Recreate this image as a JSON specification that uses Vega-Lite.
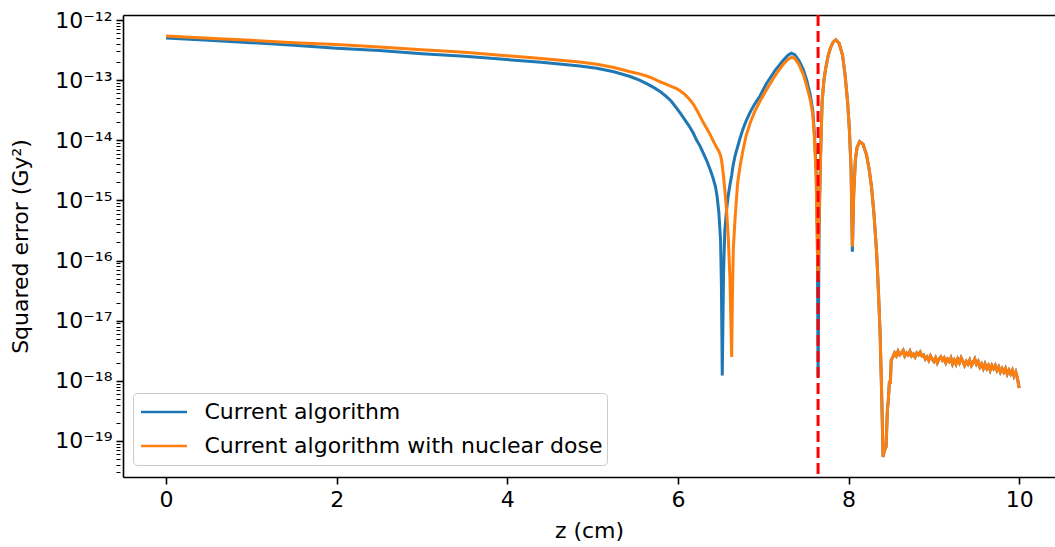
{
  "$schema": "https://vega.github.io/schema/vega-lite/v6.json",
  "width": 932,
  "height": 462,
  "autosize": {"type": "none"},
  "padding": {"left": 123, "top": 15, "right": 0, "bottom": 70},
  "background": "white",
  "config": {
    "font": "DejaVu Sans",
    "view": {"stroke": null},
    "axis": {"grid": false, "domainColor": "black", "domainWidth": 1.6, "tickColor": "black", "labelColor": "black", "titleColor": "black", "labelFontSize": 22, "titleFontSize": 22, "titleFontWeight": "normal", "labelFont": "DejaVu Sans", "titleFont": "DejaVu Sans"}
  },
  "layer": [
    {
      "data": {"values": [
        {"z": 0, "Current algorithm": 5.0e-13, "Current algorithm with nuclear dose": 5.4e-13},
        {"z": 0.5, "Current algorithm": 4.6e-13, "Current algorithm with nuclear dose": 4.95e-13},
        {"z": 1, "Current algorithm": 4.2e-13, "Current algorithm with nuclear dose": 4.6e-13},
        {"z": 1.5, "Current algorithm": 3.8e-13, "Current algorithm with nuclear dose": 4.2e-13},
        {"z": 2, "Current algorithm": 3.4e-13, "Current algorithm with nuclear dose": 3.9e-13},
        {"z": 2.5, "Current algorithm": 3.1e-13, "Current algorithm with nuclear dose": 3.55e-13},
        {"z": 3, "Current algorithm": 2.75e-13, "Current algorithm with nuclear dose": 3.2e-13},
        {"z": 3.5, "Current algorithm": 2.5e-13, "Current algorithm with nuclear dose": 2.9e-13},
        {"z": 3.92, "Current algorithm": 2.24e-13, "Current algorithm with nuclear dose": 2.6e-13},
        {"z": 4.4, "Current algorithm": 1.98e-13, "Current algorithm with nuclear dose": 2.3e-13},
        {"z": 4.85, "Current algorithm": 1.72e-13, "Current algorithm with nuclear dose": 2.0e-13},
        {"z": 5.05, "Current algorithm": 1.58e-13, "Current algorithm with nuclear dose": 1.83e-13},
        {"z": 5.25, "Current algorithm": 1.38e-13, "Current algorithm with nuclear dose": 1.62e-13},
        {"z": 5.44, "Current algorithm": 1.15e-13, "Current algorithm with nuclear dose": 1.38e-13},
        {"z": 5.55, "Current algorithm": 1.0e-13, "Current algorithm with nuclear dose": 1.27e-13},
        {"z": 5.65, "Current algorithm": 8.5e-14, "Current algorithm with nuclear dose": 1.15e-13},
        {"z": 5.72, "Current algorithm": 7.5e-14, "Current algorithm with nuclear dose": 1.05e-13},
        {"z": 5.79, "Current algorithm": 6.5e-14, "Current algorithm with nuclear dose": 9.4e-14},
        {"z": 5.86, "Current algorithm": 5.4e-14, "Current algorithm with nuclear dose": 8.6e-14},
        {"z": 5.92, "Current algorithm": 4.5e-14, "Current algorithm with nuclear dose": 7.9e-14},
        {"z": 5.98, "Current algorithm": 3.5e-14, "Current algorithm with nuclear dose": 7.3e-14},
        {"z": 6.03, "Current algorithm": 2.8e-14, "Current algorithm with nuclear dose": 6.6e-14},
        {"z": 6.08, "Current algorithm": 2.2e-14, "Current algorithm with nuclear dose": 5.8e-14},
        {"z": 6.13, "Current algorithm": 1.74e-14, "Current algorithm with nuclear dose": 4.9e-14},
        {"z": 6.18, "Current algorithm": 1.32e-14, "Current algorithm with nuclear dose": 4.0e-14},
        {"z": 6.22, "Current algorithm": 1.0e-14, "Current algorithm with nuclear dose": 3.2e-14},
        {"z": 6.26, "Current algorithm": 8.0e-15, "Current algorithm with nuclear dose": 2.5e-14},
        {"z": 6.30, "Current algorithm": 6.0e-15, "Current algorithm with nuclear dose": 1.95e-14},
        {"z": 6.34, "Current algorithm": 4.5e-15, "Current algorithm with nuclear dose": 1.55e-14},
        {"z": 6.38, "Current algorithm": 3.2e-15, "Current algorithm with nuclear dose": 1.23e-14},
        {"z": 6.41, "Current algorithm": 2.4e-15, "Current algorithm with nuclear dose": 1.0e-14},
        {"z": 6.44, "Current algorithm": 1.7e-15, "Current algorithm with nuclear dose": 8.3e-15},
        {"z": 6.46, "Current algorithm": 1.15e-15, "Current algorithm with nuclear dose": 7.4e-15},
        {"z": 6.48, "Current algorithm": 6.3e-16, "Current algorithm with nuclear dose": 6.6e-15},
        {"z": 6.50, "Current algorithm": 2.2e-16, "Current algorithm with nuclear dose": 5.6e-15},
        {"z": 6.51, "Current algorithm": 4.0e-17, "Current algorithm with nuclear dose": 4.8e-15},
        {"z": 6.52, "Current algorithm": 1.23e-18, "Current algorithm with nuclear dose": 3.8e-15},
        {"z": 6.535, "Current algorithm": 6.3e-17, "Current algorithm with nuclear dose": 2.5e-15},
        {"z": 6.55, "Current algorithm": 3.2e-16, "Current algorithm with nuclear dose": 1.5e-15},
        {"z": 6.57, "Current algorithm": 6.9e-16, "Current algorithm with nuclear dose": 7.0e-16},
        {"z": 6.59, "Current algorithm": 1.2e-15, "Current algorithm with nuclear dose": 2.5e-16},
        {"z": 6.61, "Current algorithm": 1.8e-15, "Current algorithm with nuclear dose": 5.0e-17},
        {"z": 6.63, "Current algorithm": 2.6e-15, "Current algorithm with nuclear dose": 2.5e-18},
        {"z": 6.64, "Current algorithm": 3.3e-15, "Current algorithm with nuclear dose": 3.0e-17},
        {"z": 6.65, "Current algorithm": 4.0e-15, "Current algorithm with nuclear dose": 1.6e-16},
        {"z": 6.67, "Current algorithm": 5.5e-15, "Current algorithm with nuclear dose": 5.0e-16},
        {"z": 6.70, "Current algorithm": 7.8e-15, "Current algorithm with nuclear dose": 1.95e-15},
        {"z": 6.73, "Current algorithm": 1.1e-14, "Current algorithm with nuclear dose": 3.8e-15},
        {"z": 6.76, "Current algorithm": 1.5e-14, "Current algorithm with nuclear dose": 6.5e-15},
        {"z": 6.80, "Current algorithm": 2.1e-14, "Current algorithm with nuclear dose": 1.2e-14},
        {"z": 6.85, "Current algorithm": 3.0e-14, "Current algorithm with nuclear dose": 2.0e-14},
        {"z": 6.90, "Current algorithm": 4.0e-14, "Current algorithm with nuclear dose": 3.0e-14},
        {"z": 6.96, "Current algorithm": 5.4e-14, "Current algorithm with nuclear dose": 4.4e-14},
        {"z": 7.04, "Current algorithm": 8.9e-14, "Current algorithm with nuclear dose": 7.0e-14},
        {"z": 7.14, "Current algorithm": 1.45e-13, "Current algorithm with nuclear dose": 1.2e-13},
        {"z": 7.23, "Current algorithm": 2.1e-13, "Current algorithm with nuclear dose": 1.8e-13},
        {"z": 7.29, "Current algorithm": 2.6e-13, "Current algorithm with nuclear dose": 2.2e-13},
        {"z": 7.33, "Current algorithm": 2.8e-13, "Current algorithm with nuclear dose": 2.4e-13},
        {"z": 7.37, "Current algorithm": 2.65e-13, "Current algorithm with nuclear dose": 2.3e-13},
        {"z": 7.42, "Current algorithm": 2.1e-13, "Current algorithm with nuclear dose": 1.8e-13},
        {"z": 7.47, "Current algorithm": 1.5e-13, "Current algorithm with nuclear dose": 1.25e-13},
        {"z": 7.51, "Current algorithm": 1.0e-13, "Current algorithm with nuclear dose": 8.0e-14},
        {"z": 7.55, "Current algorithm": 5.8e-14, "Current algorithm with nuclear dose": 4.8e-14},
        {"z": 7.58, "Current algorithm": 3.2e-14, "Current algorithm with nuclear dose": 2.8e-14},
        {"z": 7.60, "Current algorithm": 1.3e-14, "Current algorithm with nuclear dose": 1.1e-14},
        {"z": 7.62, "Current algorithm": 3.2e-15, "Current algorithm with nuclear dose": 2.6e-15},
        {"z": 7.635, "Current algorithm": 2.5e-16, "Current algorithm with nuclear dose": 1.5e-16},
        {"z": 7.643, "Current algorithm": 1.15e-18, "Current algorithm with nuclear dose": 4.7e-17},
        {"z": 7.655, "Current algorithm": 3.2e-16, "Current algorithm with nuclear dose": 5.0e-16},
        {"z": 7.67, "Current algorithm": 4.0e-15, "Current algorithm with nuclear dose": 4.0e-15},
        {"z": 7.69, "Current algorithm": 4.2e-14, "Current algorithm with nuclear dose": 4.2e-14},
        {"z": 7.71, "Current algorithm": 9.5e-14, "Current algorithm with nuclear dose": 9.5e-14},
        {"z": 7.73, "Current algorithm": 1.5e-13, "Current algorithm with nuclear dose": 1.5e-13},
        {"z": 7.76, "Current algorithm": 2.5e-13, "Current algorithm with nuclear dose": 2.5e-13},
        {"z": 7.79, "Current algorithm": 3.5e-13, "Current algorithm with nuclear dose": 3.5e-13},
        {"z": 7.82, "Current algorithm": 4.3e-13, "Current algorithm with nuclear dose": 4.3e-13},
        {"z": 7.85, "Current algorithm": 4.7e-13, "Current algorithm with nuclear dose": 4.7e-13},
        {"z": 7.89, "Current algorithm": 4.1e-13, "Current algorithm with nuclear dose": 4.1e-13},
        {"z": 7.93, "Current algorithm": 2.6e-13, "Current algorithm with nuclear dose": 2.6e-13},
        {"z": 7.96, "Current algorithm": 1.2e-13, "Current algorithm with nuclear dose": 1.2e-13},
        {"z": 7.99, "Current algorithm": 4.2e-14, "Current algorithm with nuclear dose": 4.2e-14},
        {"z": 8.01, "Current algorithm": 1.5e-14, "Current algorithm with nuclear dose": 1.5e-14},
        {"z": 8.03, "Current algorithm": 3.2e-15, "Current algorithm with nuclear dose": 3.2e-15},
        {"z": 8.045, "Current algorithm": 1.4e-16, "Current algorithm with nuclear dose": 1.7e-16},
        {"z": 8.06, "Current algorithm": 1.2e-15, "Current algorithm with nuclear dose": 1.2e-15},
        {"z": 8.08, "Current algorithm": 4.7e-15, "Current algorithm with nuclear dose": 4.7e-15},
        {"z": 8.10, "Current algorithm": 7.6e-15, "Current algorithm with nuclear dose": 7.6e-15},
        {"z": 8.13, "Current algorithm": 9.5e-15, "Current algorithm with nuclear dose": 9.5e-15},
        {"z": 8.17, "Current algorithm": 8.6e-15, "Current algorithm with nuclear dose": 8.6e-15},
        {"z": 8.21, "Current algorithm": 5.8e-15, "Current algorithm with nuclear dose": 5.8e-15},
        {"z": 8.24, "Current algorithm": 3.4e-15, "Current algorithm with nuclear dose": 3.4e-15},
        {"z": 8.27, "Current algorithm": 1.66e-15, "Current algorithm with nuclear dose": 1.66e-15},
        {"z": 8.30, "Current algorithm": 5.5e-16, "Current algorithm with nuclear dose": 5.5e-16},
        {"z": 8.33, "Current algorithm": 1.3e-16, "Current algorithm with nuclear dose": 1.3e-16},
        {"z": 8.35, "Current algorithm": 3.2e-17, "Current algorithm with nuclear dose": 3.2e-17},
        {"z": 8.37, "Current algorithm": 6.2e-18, "Current algorithm with nuclear dose": 6.2e-18},
        {"z": 8.39, "Current algorithm": 4.8e-19, "Current algorithm with nuclear dose": 4.8e-19},
        {"z": 8.405, "Current algorithm": 5.4e-20, "Current algorithm with nuclear dose": 5.4e-20},
        {"z": 8.42, "Current algorithm": 7.0e-20, "Current algorithm with nuclear dose": 7.0e-20},
        {"z": 8.44, "Current algorithm": 8.0e-20, "Current algorithm with nuclear dose": 8.0e-20},
        {"z": 8.455, "Current algorithm": 3.2e-19, "Current algorithm with nuclear dose": 3.2e-19},
        {"z": 8.465, "Current algorithm": 4.5e-19, "Current algorithm with nuclear dose": 4.5e-19},
        {"z": 8.48, "Current algorithm": 1.0e-18, "Current algorithm with nuclear dose": 1.0e-18},
        {"z": 8.49, "Current algorithm": 9.0e-19, "Current algorithm with nuclear dose": 9.0e-19},
        {"z": 8.50, "Current algorithm": 2.2e-18, "Current algorithm with nuclear dose": 2.2e-18},
        {"z": 8.52, "Current algorithm": 2.5e-18, "Current algorithm with nuclear dose": 2.5e-18},
        {"z": 8.54, "Current algorithm": 2.9e-18, "Current algorithm with nuclear dose": 2.9e-18},
        {"z": 8.56, "Current algorithm": 2.6e-18, "Current algorithm with nuclear dose": 2.6e-18},
        {"z": 8.58, "Current algorithm": 3.1e-18, "Current algorithm with nuclear dose": 3.1e-18},
        {"z": 8.60, "Current algorithm": 2.7e-18, "Current algorithm with nuclear dose": 2.7e-18},
        {"z": 8.62, "Current algorithm": 2.9e-18, "Current algorithm with nuclear dose": 2.9e-18},
        {"z": 8.64, "Current algorithm": 3.2e-18, "Current algorithm with nuclear dose": 3.2e-18},
        {"z": 8.66, "Current algorithm": 2.6e-18, "Current algorithm with nuclear dose": 2.6e-18},
        {"z": 8.68, "Current algorithm": 2.9e-18, "Current algorithm with nuclear dose": 2.9e-18},
        {"z": 8.70, "Current algorithm": 2.7e-18, "Current algorithm with nuclear dose": 2.7e-18},
        {"z": 8.72, "Current algorithm": 3.1e-18, "Current algorithm with nuclear dose": 3.1e-18},
        {"z": 8.74, "Current algorithm": 2.6e-18, "Current algorithm with nuclear dose": 2.6e-18},
        {"z": 8.76, "Current algorithm": 2.8e-18, "Current algorithm with nuclear dose": 2.8e-18},
        {"z": 8.78, "Current algorithm": 2.5e-18, "Current algorithm with nuclear dose": 2.5e-18},
        {"z": 8.80, "Current algorithm": 2.9e-18, "Current algorithm with nuclear dose": 2.9e-18},
        {"z": 8.82, "Current algorithm": 2.7e-18, "Current algorithm with nuclear dose": 2.7e-18},
        {"z": 8.84, "Current algorithm": 3.0e-18, "Current algorithm with nuclear dose": 3.0e-18},
        {"z": 8.86, "Current algorithm": 2.6e-18, "Current algorithm with nuclear dose": 2.6e-18},
        {"z": 8.88, "Current algorithm": 2.7e-18, "Current algorithm with nuclear dose": 2.7e-18},
        {"z": 8.90, "Current algorithm": 2.3e-18, "Current algorithm with nuclear dose": 2.3e-18},
        {"z": 8.92, "Current algorithm": 2.5e-18, "Current algorithm with nuclear dose": 2.5e-18},
        {"z": 8.94, "Current algorithm": 2.2e-18, "Current algorithm with nuclear dose": 2.2e-18},
        {"z": 8.96, "Current algorithm": 2.6e-18, "Current algorithm with nuclear dose": 2.6e-18},
        {"z": 8.98, "Current algorithm": 2.3e-18, "Current algorithm with nuclear dose": 2.3e-18},
        {"z": 9.00, "Current algorithm": 2.1e-18, "Current algorithm with nuclear dose": 2.1e-18},
        {"z": 9.02, "Current algorithm": 2.4e-18, "Current algorithm with nuclear dose": 2.4e-18},
        {"z": 9.04, "Current algorithm": 2.0e-18, "Current algorithm with nuclear dose": 2.0e-18},
        {"z": 9.06, "Current algorithm": 2.3e-18, "Current algorithm with nuclear dose": 2.3e-18},
        {"z": 9.08, "Current algorithm": 2.5e-18, "Current algorithm with nuclear dose": 2.5e-18},
        {"z": 9.10, "Current algorithm": 2.2e-18, "Current algorithm with nuclear dose": 2.2e-18},
        {"z": 9.12, "Current algorithm": 2.4e-18, "Current algorithm with nuclear dose": 2.4e-18},
        {"z": 9.14, "Current algorithm": 2.0e-18, "Current algorithm with nuclear dose": 2.0e-18},
        {"z": 9.16, "Current algorithm": 2.3e-18, "Current algorithm with nuclear dose": 2.3e-18},
        {"z": 9.18, "Current algorithm": 2.1e-18, "Current algorithm with nuclear dose": 2.1e-18},
        {"z": 9.20, "Current algorithm": 2.4e-18, "Current algorithm with nuclear dose": 2.4e-18},
        {"z": 9.22, "Current algorithm": 1.9e-18, "Current algorithm with nuclear dose": 1.9e-18},
        {"z": 9.24, "Current algorithm": 2.2e-18, "Current algorithm with nuclear dose": 2.2e-18},
        {"z": 9.26, "Current algorithm": 1.9e-18, "Current algorithm with nuclear dose": 1.9e-18},
        {"z": 9.28, "Current algorithm": 2.3e-18, "Current algorithm with nuclear dose": 2.3e-18},
        {"z": 9.30, "Current algorithm": 2.0e-18, "Current algorithm with nuclear dose": 2.0e-18},
        {"z": 9.32, "Current algorithm": 2.4e-18, "Current algorithm with nuclear dose": 2.4e-18},
        {"z": 9.34, "Current algorithm": 2.1e-18, "Current algorithm with nuclear dose": 2.1e-18},
        {"z": 9.36, "Current algorithm": 1.8e-18, "Current algorithm with nuclear dose": 1.8e-18},
        {"z": 9.38, "Current algorithm": 2.1e-18, "Current algorithm with nuclear dose": 2.1e-18},
        {"z": 9.40, "Current algorithm": 1.9e-18, "Current algorithm with nuclear dose": 1.9e-18},
        {"z": 9.42, "Current algorithm": 2.2e-18, "Current algorithm with nuclear dose": 2.2e-18},
        {"z": 9.44, "Current algorithm": 1.8e-18, "Current algorithm with nuclear dose": 1.8e-18},
        {"z": 9.46, "Current algorithm": 2.0e-18, "Current algorithm with nuclear dose": 2.0e-18},
        {"z": 9.48, "Current algorithm": 2.3e-18, "Current algorithm with nuclear dose": 2.3e-18},
        {"z": 9.50, "Current algorithm": 1.9e-18, "Current algorithm with nuclear dose": 1.9e-18},
        {"z": 9.52, "Current algorithm": 2.1e-18, "Current algorithm with nuclear dose": 2.1e-18},
        {"z": 9.54, "Current algorithm": 1.7e-18, "Current algorithm with nuclear dose": 1.7e-18},
        {"z": 9.56, "Current algorithm": 1.9e-18, "Current algorithm with nuclear dose": 1.9e-18},
        {"z": 9.58, "Current algorithm": 1.6e-18, "Current algorithm with nuclear dose": 1.6e-18},
        {"z": 9.60, "Current algorithm": 1.9e-18, "Current algorithm with nuclear dose": 1.9e-18},
        {"z": 9.62, "Current algorithm": 1.6e-18, "Current algorithm with nuclear dose": 1.6e-18},
        {"z": 9.64, "Current algorithm": 1.8e-18, "Current algorithm with nuclear dose": 1.8e-18},
        {"z": 9.66, "Current algorithm": 1.5e-18, "Current algorithm with nuclear dose": 1.5e-18},
        {"z": 9.68, "Current algorithm": 1.8e-18, "Current algorithm with nuclear dose": 1.8e-18},
        {"z": 9.70, "Current algorithm": 1.6e-18, "Current algorithm with nuclear dose": 1.6e-18},
        {"z": 9.72, "Current algorithm": 1.8e-18, "Current algorithm with nuclear dose": 1.8e-18},
        {"z": 9.74, "Current algorithm": 1.5e-18, "Current algorithm with nuclear dose": 1.5e-18},
        {"z": 9.76, "Current algorithm": 1.7e-18, "Current algorithm with nuclear dose": 1.7e-18},
        {"z": 9.78, "Current algorithm": 1.4e-18, "Current algorithm with nuclear dose": 1.4e-18},
        {"z": 9.80, "Current algorithm": 1.6e-18, "Current algorithm with nuclear dose": 1.6e-18},
        {"z": 9.82, "Current algorithm": 1.4e-18, "Current algorithm with nuclear dose": 1.4e-18},
        {"z": 9.84, "Current algorithm": 1.6e-18, "Current algorithm with nuclear dose": 1.6e-18},
        {"z": 9.86, "Current algorithm": 1.3e-18, "Current algorithm with nuclear dose": 1.3e-18},
        {"z": 9.88, "Current algorithm": 1.5e-18, "Current algorithm with nuclear dose": 1.5e-18},
        {"z": 9.90, "Current algorithm": 1.3e-18, "Current algorithm with nuclear dose": 1.3e-18},
        {"z": 9.92, "Current algorithm": 1.5e-18, "Current algorithm with nuclear dose": 1.5e-18},
        {"z": 9.94, "Current algorithm": 1.2e-18, "Current algorithm with nuclear dose": 1.2e-18},
        {"z": 9.96, "Current algorithm": 1.4e-18, "Current algorithm with nuclear dose": 1.4e-18},
        {"z": 9.98, "Current algorithm": 1.1e-18, "Current algorithm with nuclear dose": 1.1e-18},
        {"z": 10.0, "Current algorithm": 7.6e-19, "Current algorithm with nuclear dose": 7.6e-19}
      ]},
      "transform": [
        {"fold": ["Current algorithm", "Current algorithm with nuclear dose"], "as": ["series", "error"]},
        {"filter": "isValid(datum.error)"}
      ],
      "mark": {"type": "line", "strokeWidth": 3, "clip": true},
      "encoding": {
        "x": {
          "field": "z", "type": "quantitative",
          "scale": {"domain": [-0.504, 10.42], "nice": false, "zero": false},
          "axis": {"values": [0, 2, 4, 6, 8, 10], "title": "z (cm)", "tickSize": 7, "tickWidth": 1.6, "labelPadding": 5, "titlePadding": 10, "labelFlush": false}
        },
        "y": {
          "field": "error", "type": "quantitative",
          "scale": {"type": "log", "domain": [2.518e-20, 1.211e-12], "nice": false},
          "axis": {
            "title": "Squared error (Gy²)",
            "tickCount": 100,
            "values": [3e-20, 4e-20, 5e-20, 6e-20, 7e-20, 8e-20, 9e-20,
              1e-19, 2e-19, 3e-19, 4e-19, 5e-19, 6e-19, 7e-19, 8e-19, 9e-19,
              1e-18, 2e-18, 3e-18, 4e-18, 5e-18, 6e-18, 7e-18, 8e-18, 9e-18,
              1e-17, 2e-17, 3e-17, 4e-17, 5e-17, 6e-17, 7e-17, 8e-17, 9e-17,
              1e-16, 2e-16, 3e-16, 4e-16, 5e-16, 6e-16, 7e-16, 8e-16, 9e-16,
              1e-15, 2e-15, 3e-15, 4e-15, 5e-15, 6e-15, 7e-15, 8e-15, 9e-15,
              1e-14, 2e-14, 3e-14, 4e-14, 5e-14, 6e-14, 7e-14, 8e-14, 9e-14,
              1e-13, 2e-13, 3e-13, 4e-13, 5e-13, 6e-13, 7e-13, 8e-13, 9e-13,
              1e-12],
            "labelExpr": "abs(log(datum.value)/LN10 - round(log(datum.value)/LN10)) < 0.01 ? '10⁻¹' + ['²','³','⁴','⁵','⁶','⁷','⁸','⁹'][round(-log(datum.value)/LN10) - 12] : ''",
            "labelOverlap": false,
            "labelBound": false,
            "labelFlush": false,
            "tickSize": 7,
            "tickDash": {"condition": {"test": "abs(log(datum.value)/LN10 - round(log(datum.value)/LN10)) < 0.01", "value": [10, 0]}, "value": [0, 3, 4, 20]},
            "tickWidth": {"condition": {"test": "abs(log(datum.value)/LN10 - round(log(datum.value)/LN10)) < 0.01", "value": 1.6}, "value": 1.1},
            "labelPadding": 4,
            "titlePadding": 22
          }
        },
        "color": {
          "field": "series", "type": "nominal",
          "scale": {"domain": ["Current algorithm", "Current algorithm with nuclear dose"], "range": ["#1f77b4", "#ff7f0e"]},
          "legend": {
            "orient": "none", "legendX": 10, "legendY": 378, "title": null,
            "symbolType": "stroke", "symbolSize": 2116, "symbolStrokeWidth": 2.5,
            "symbolOffset": 2.5, "clipHeight": 30,
            "labelFontSize": 22, "labelColor": "black", "labelFont": "DejaVu Sans", "labelOffset": 16, "labelLimit": 0,
            "padding": 4, "rowPadding": 4,
            "fillColor": "rgba(255,255,255,0.8)", "strokeColor": "#cccccc", "cornerRadius": 4
          }
        }
      }
    },
    {
      "data": {"values": [{"z": 7.643}]},
      "mark": {"type": "rule", "color": "#ff0000", "strokeWidth": 3, "strokeDash": [11, 5]},
      "encoding": {
        "x": {
          "field": "z", "type": "quantitative",
          "scale": {"domain": [-0.504, 10.42], "nice": false, "zero": false},
          "axis": {"orient": "top", "labels": false, "ticks": false, "title": null, "grid": false, "domainColor": "black", "domainWidth": 1.6}
        }
      }
    }
  ],
  "resolve": {"axis": {"x": "independent"}}
}
